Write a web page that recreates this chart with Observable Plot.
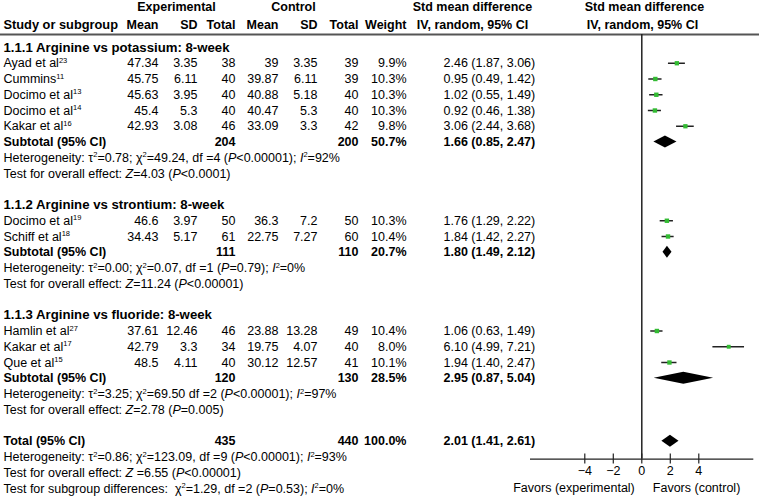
<!DOCTYPE html>
<html><head><meta charset="utf-8">
<script src="https://cdn.jsdelivr.net/npm/d3@7"></script>
<script src="https://cdn.jsdelivr.net/npm/@observablehq/plot@0.6"></script>
<style>body{margin:0;background:#fff}</style>
</head><body><div id="chart"></div>
<script>
// ---------- data ----------
const groupTitles = ["1.1.1 Arginine vs potassium: 8-week", "1.1.2 Arginine vs strontium: 8-week", "1.1.3 Arginine vs fluoride: 8-week"];
const studyNames = ["Ayad et al^23", "Cummins^11", "Docimo et al^13", "Docimo et al^14", "Kakar et al^16", "Docimo et al^19", "Schiff et al^18", "Hamlin et al^27", "Kakar et al^17", "Que et al^15"];
const studyGroup = [0, 0, 0, 0, 0, 1, 1, 2, 2, 2];
const expMean = [47.34, 45.75, 45.63, 45.4, 42.93, 46.6, 34.43, 37.61, 42.79, 48.5];
const expSD = [3.35, 6.11, 3.95, 5.3, 3.08, 3.97, 5.17, 12.46, 3.3, 4.11];
const expN = [38, 40, 40, 40, 46, 50, 61, 46, 34, 40];
const ctlMean = [39, 39.87, 40.88, 40.47, 33.09, 36.3, 22.75, 23.88, 19.75, 30.12];
const ctlSD = [3.35, 6.11, 5.18, 5.3, 3.3, 7.2, 7.27, 13.28, 4.07, 12.57];
const ctlN = [39, 39, 40, 40, 42, 50, 60, 49, 40, 41];
const weight = [9.9, 10.3, 10.3, 10.3, 9.8, 10.3, 10.4, 10.4, 8.0, 10.1];
const smd = [2.46, 0.95, 1.02, 0.92, 3.06, 1.76, 1.84, 1.06, 6.10, 1.94];
const smdLo = [1.87, 0.49, 0.55, 0.46, 2.44, 1.29, 1.42, 0.63, 4.99, 1.40];
const smdHi = [3.06, 1.42, 1.49, 1.38, 3.68, 2.22, 2.27, 1.49, 7.21, 2.47];

const subExpN = [204, 111, 120];
const subCtlN = [200, 110, 130];
const subWeight = [50.7, 20.7, 28.5];
const subSmd = [1.66, 1.80, 2.95];
const subLo = [0.85, 1.49, 0.87];
const subHi = [2.47, 2.12, 5.04];
const subHet = [
  "Heterogeneity: τ^2=0.78; χ^2=49.24, df =4 (*P*<0.00001); *I*^2=92%",
  "Heterogeneity: τ^2=0.00; χ^2=0.07, df =1 (*P*=0.79); *I*^2=0%",
  "Heterogeneity: τ^2=3.25; χ^2=69.50 df =2 (*P*<0.00001); *I*^2=97%"
];
const subTest = [
  "Test for overall effect: *Z*=4.03 (*P*<0.0001)",
  "Test for overall effect: *Z*=11.24 (*P*<0.00001)",
  "Test for overall effect: *Z*=2.78 (*P*=0.005)"
];
const totExpN = 435, totCtlN = 440, totWeight = 100.0;
const totSmd = 2.01, totLo = 1.41, totHi = 2.61;
const totHet = "Heterogeneity: τ^2=0.86; χ^2=123.09, df =9 (*P*<0.00001); *I*^2=93%";
const totTest = "Test for overall effect: *Z* =6.55 (*P*<0.00001)";
const subDiffTest = "Test for subgroup differences:  χ^2=1.29, df =2 (*P*=0.53); *I*^2=0%";

const xTicks = [-4, -2, 0, 2, 4];
const colHeaders = ["Mean", "SD", "Total", "Mean", "SD", "Total", "Weight"];

// ---------- layout (rows) ----------
let r = 0;
const titleRows = [], studyRows = [], subRows = [], hetRows = [], testRows = [];
groupTitles.forEach((t, g) => {
  titleRows[g] = r++;
  studyGroup.forEach((sg, i) => { if (sg === g) studyRows[i] = r++; });
  subRows[g] = r++; hetRows[g] = r++; testRows[g] = r++;
  r++; // blank row
});
const totalRow = r++, totHetRow = r++, totTestRow = r++, subDiffRow = r++;
const headRow1 = -2.6, headRow2 = -1.46, ruleRow = -0.83, axisRow = 26.13;

// column positions (px) and anchors
const COL = {
  name: [3, "start"], em: [158, "end"], es: [197, "end"], en: [235, "end"],
  cm: [278, "end"], cs: [317, "end"], cn: [358, "end"], w: [406, "end"], smd: [443, "start"]
};
const ci = (e, l, h) => `${e.toFixed(2)} (${l.toFixed(2)}, ${h.toFixed(2)})`;

const cells = []; // {row, col, text, bold, size}
const add = (row, col, text, bold = false, size = 12.5) => cells.push({row, col, text: String(text), bold, size});
["em","es","en","cm","cs","cn","w"].forEach((c, k) => add(headRow2, c, colHeaders[k], true));
add(headRow2, "name", "Study or subgroup", true, 12.8);
groupTitles.forEach((t, g) => {
  add(titleRows[g], "name", t, true, 13.2);
  add(subRows[g], "name", "Subtotal (95% CI)", true);
  add(subRows[g], "en", subExpN[g], true);
  add(subRows[g], "cn", subCtlN[g], true);
  add(subRows[g], "w", subWeight[g].toFixed(1) + "%", true);
  add(subRows[g], "smd", ci(subSmd[g], subLo[g], subHi[g]), true);
  add(hetRows[g], "name", subHet[g]);
  add(testRows[g], "name", subTest[g]);
});
studyNames.forEach((n, i) => {
  const row = studyRows[i];
  add(row, "name", n);
  add(row, "em", expMean[i]); add(row, "es", expSD[i]); add(row, "en", expN[i]);
  add(row, "cm", ctlMean[i]); add(row, "cs", ctlSD[i]); add(row, "cn", ctlN[i]);
  add(row, "w", weight[i].toFixed(1) + "%");
  add(row, "smd", ci(smd[i], smdLo[i], smdHi[i]));
});
add(totalRow, "name", "Total (95% CI)", true);
add(totalRow, "en", totExpN, true);
add(totalRow, "cn", totCtlN, true);
add(totalRow, "w", totWeight.toFixed(1) + "%", true);
add(totalRow, "smd", ci(totSmd, totLo, totHi), true);
add(totHetRow, "name", totHet);
add(totTestRow, "name", totTest);
add(subDiffRow, "name", subDiffTest);

const centered = [
  {row: headRow1, x: 176, text: "Experimental"},
  {row: headRow1, x: 293, text: "Control"},
  {row: headRow1, x: 472, text: "Std mean difference"},
  {row: headRow2, x: 472, text: "IV, random, 95% CI"},
  {row: headRow1, x: 644, text: "Std mean difference"},
  {row: headRow2, x: 642, text: "IV, random, 95% CI"}
];

const studies = studyNames.map((n, i) => ({row: studyRows[i], est: smd[i], lo: smdLo[i], hi: smdHi[i], w: weight[i]}));
const diamonds = [];
const addDiamond = (id, row, e, l, h) => {
  const hh = 0.38;
  diamonds.push({id, x: l, y1: row, y2: row}, {id, x: e, y1: row - hh, y2: row + hh}, {id, x: h, y1: row, y2: row});
};
groupTitles.forEach((t, g) => addDiamond("g" + g, subRows[g], subSmd[g], subLo[g], subHi[g]));
addDiamond("tot", totalRow, totSmd, totLo, totHi);

// ---------- marks ----------
const textMarks = [];
for (const [c, [px, anchor]] of Object.entries(COL)) {
  const groups = d3.groups(cells.filter(d => d.col === c), d => d.bold + "|" + d.size);
  for (const [key, data] of groups) {
    const [bold, size] = [data[0].bold, data[0].size];
    textMarks.push(Plot.text(data, {
      y: "row", text: "text", frameAnchor: "left", dx: px, textAnchor: anchor,
      fontWeight: bold ? "bold" : "normal", fontSize: size, fill: "#000"
    }));
  }
}
for (const d of centered) {
  textMarks.push(Plot.text([d], {y: "row", text: "text", frameAnchor: "left", dx: d.x, textAnchor: "middle", fontWeight: "bold", fill: "#000"}));
}

const green = "#33bb33";
const chart = Plot.plot({
  width: 759, height: 501,
  marginLeft: 0, marginRight: 0, marginTop: 0, marginBottom: 0,
  x: {domain: [-7.81, 7.86], range: [530, 753.3], axis: null},
  y: {domain: [0, 28], range: [47, 488], axis: null},
  r: {domain: [0, 10.4], range: [0, 2.5]},
  style: {fontFamily: "'Liberation Sans', Arial, sans-serif", fontSize: "12.5px", background: "#fff", color: "#000", whiteSpace: "pre"},
  marks: [
    Plot.ruleY([ruleRow], {stroke: "#555", strokeWidth: 2}),
    Plot.ruleX([0], {y1: ruleRow, y2: axisRow, stroke: "#222", strokeWidth: 1.5}),
    Plot.ruleY([axisRow], {x1: -7.81, x2: 7.86, stroke: "#222", strokeWidth: 1.2}),
    Plot.ruleX(xTicks, {x: d => d, y1: axisRow - 0.32, y2: axisRow + 0.32, stroke: "#222", strokeWidth: 1.2}),
    Plot.text(xTicks, {x: d => d, y: axisRow + 0.75, text: d => d < 0 ? "\u2212" + (-d) : String(d), fill: "#000"}),
    Plot.text(["Favors (experimental)"], {x: 0, y: subDiffRow - 0.05, text: d => d, textAnchor: "end", dx: -7, fill: "#000"}),
    Plot.text(["Favors (control)"], {x: 0, y: subDiffRow - 0.05, text: d => d, textAnchor: "start", dx: 11, fill: "#000"}),
    Plot.ruleY(studies, {y: "row", x1: "lo", x2: "hi", stroke: "#222", strokeWidth: 1.5}),
    Plot.dot(studies, {x: "est", y: "row", r: "w", symbol: "square", fill: green, stroke: null}),
    Plot.areaY(diamonds, {x: "x", y1: "y1", y2: "y2", z: "id", fill: "#000"}),
    ...textMarks
  ]
});

// rich text: *italic* and ^superscript
function richify(svg) {
  const NS = "http://www.w3.org/2000/svg";
  svg.querySelectorAll("text").forEach(t => {
    const s = t.textContent;
    if (!/[\*\^]/.test(s)) return;
    t.textContent = "";
    const re = /\*([^*]+)\*|\^(\d+)/g;
    let last = 0, m, raised = false;
    const put = (txt, o) => {
      const ts = document.createElementNS(NS, "tspan");
      ts.textContent = txt;
      if (o.italic) ts.setAttribute("font-style", "italic");
      if (o.sup) { ts.setAttribute("font-size", "7.5"); if (!raised) ts.setAttribute("dy", "-4.5"); raised = true; }
      else if (raised) { ts.setAttribute("dy", "4.5"); raised = false; }
      t.appendChild(ts);
    };
    while ((m = re.exec(s))) {
      if (m.index > last) put(s.slice(last, m.index), {});
      if (m[1]) put(m[1], {italic: true}); else put(m[2], {sup: true});
      last = re.lastIndex;
    }
    if (last < s.length) put(s.slice(last), {});
  });
}
richify(chart);
document.getElementById("chart").appendChild(chart);
</script></body></html>
